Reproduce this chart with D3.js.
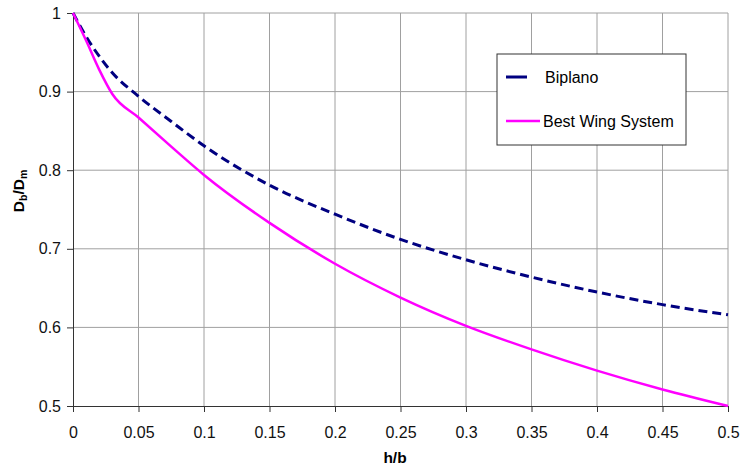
<!DOCTYPE html>
<html>
<head>
<meta charset="utf-8">
<script src="https://cdn.jsdelivr.net/npm/d3@7"></script>
<style>
  body { margin: 0; background: #fff; }
  text { font-family: "Liberation Sans", Arial, sans-serif; }
</style>
</head>
<body>
<svg id="chart" width="740" height="470"></svg>
<script>
// data
var hb = [0, 0.01, 0.02, 0.03, 0.05, 0.075, 0.1, 0.15, 0.2, 0.25, 0.3, 0.35, 0.4, 0.45, 0.5];
var biplano = [1, 0.97, 0.945, 0.924, 0.894, 0.862, 0.831, 0.781, 0.744, 0.712, 0.686, 0.664, 0.645, 0.629, 0.616];
var bestWing = [1, 0.965, 0.928, 0.897, 0.867, 0.83, 0.794, 0.733, 0.681, 0.638, 0.602, 0.572, 0.545, 0.521, 0.5];
var xTicks = [0, 0.05, 0.1, 0.15, 0.2, 0.25, 0.3, 0.35, 0.4, 0.45, 0.5];
var yTicks = [0.5, 0.6, 0.7, 0.8, 0.9, 1];
var seriesNames = ["Biplano", "Best Wing System"];

var svg = d3.select("#chart");

var x = d3.scaleLinear().domain([0, 0.5]).range([73, 728]);
var y = d3.scaleLinear().domain([0.5, 1]).range([406, 13]);

// grid
svg.append("g").selectAll("line")
    .data(xTicks.slice(1))
    .enter().append("line")
    .attr("x1", d => x(d)).attr("x2", d => x(d))
    .attr("y1", y(1)).attr("y2", y(0.5))
    .style("stroke", "#a0a0a0").style("stroke-width", 1);

svg.append("g").selectAll("line")
    .data(yTicks.slice(1))
    .enter().append("line")
    .attr("x1", x(0)).attr("x2", x(0.5))
    .attr("y1", d => y(d)).attr("y2", d => y(d))
    .style("stroke", "#a0a0a0").style("stroke-width", 1);

// axes
var xAxis = svg.append("g")
    .attr("transform", "translate(0," + y(0.5) + ")")
    .call(d3.axisBottom(x).tickValues(xTicks).tickSize(6).tickPadding(15).tickFormat(d3.format("")));
var yAxis = svg.append("g")
    .attr("transform", "translate(" + x(0) + ",0)")
    .call(d3.axisLeft(y).tickValues(yTicks).tickSize(6).tickPadding(6).tickFormat(d3.format("")));

[xAxis, yAxis].forEach(function(a) {
    a.select(".domain").style("stroke", "#333");
    a.selectAll(".tick line").style("stroke", "#333");
    a.selectAll("text").style("font-size", "16px").style("fill", "#111")
        .style("font-family", "'Liberation Sans', Arial, sans-serif");
});

// lines
var line = d3.line().curve(d3.curveMonotoneX);
svg.append("path")
    .datum(hb.map((d, i) => [x(d), y(biplano[i])]))
    .attr("d", line)
    .style("fill", "none")
    .style("stroke", "#000080")
    .style("stroke-width", 3)
    .style("stroke-dasharray", "9,5");

svg.append("path")
    .datum(hb.map((d, i) => [x(d), y(bestWing[i])]))
    .attr("d", line)
    .style("fill", "none")
    .style("stroke", "#ff00ff")
    .style("stroke-width", 2.5);

// axis titles
svg.append("text")
    .attr("x", 395).attr("y", 463)
    .attr("text-anchor", "middle")
    .style("font-size", "15.5px").style("font-weight", "bold")
    .text("h/b");

var yl = svg.append("text")
    .attr("transform", "translate(24,191) rotate(-90)")
    .attr("text-anchor", "middle")
    .style("font-size", "15.5px").style("font-weight", "bold");
yl.append("tspan").text("D");
yl.append("tspan").attr("dy", 3).style("font-size", "10.5px").text("b");
yl.append("tspan").attr("dy", -3).text("/D");
yl.append("tspan").attr("dy", 3).style("font-size", "10.5px").text("m");

// legend
var legend = svg.append("g");
legend.append("rect")
    .attr("x", 497).attr("y", 54).attr("width", 189).attr("height", 91)
    .style("fill", "#fff").style("stroke", "#333").style("stroke-width", 1);

var legY = [77, 121];
var legTextX = [545, 543];
var legStyles = [
    { color: "#000080", width: 3, dash: "21,14,1,20" },
    { color: "#ff00ff", width: 2.5, dash: null }
];
seriesNames.forEach(function(name, i) {
    legend.append("line")
        .attr("x1", 506).attr("x2", 540)
        .attr("y1", legY[i]).attr("y2", legY[i])
        .style("stroke", legStyles[i].color)
        .style("stroke-width", legStyles[i].width)
        .style("stroke-dasharray", legStyles[i].dash);
    legend.append("text")
        .attr("x", legTextX[i]).attr("y", legY[i] + 6)
        .style("font-size", "16px")
        .text(name);
});
</script>
</body>
</html>
